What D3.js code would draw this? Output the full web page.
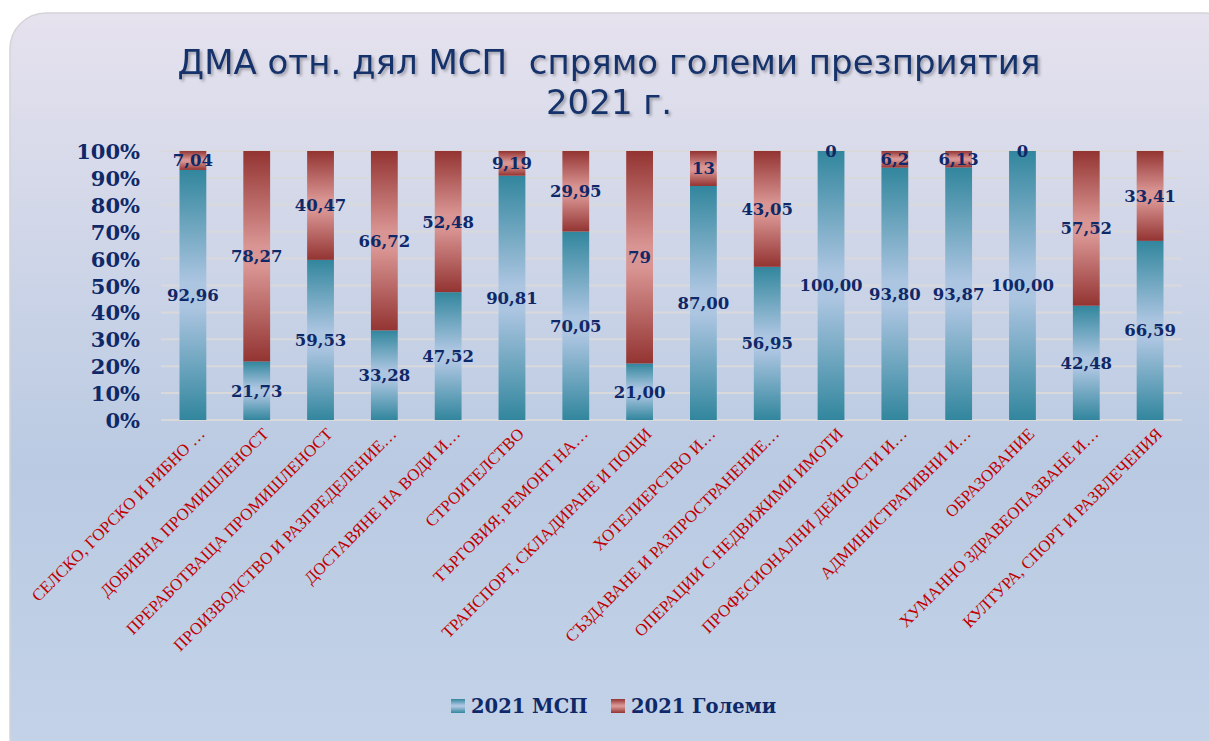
<!DOCTYPE html>
<html>
<head>
<meta charset="utf-8">
<script src="https://cdn.jsdelivr.net/npm/d3@7.9.0/dist/d3.min.js"></script>
<style>
  body { margin: 0; background: #fff; }
  svg { display: block; }
</style>
</head>
<body>
<svg width="1209" height="741"></svg>
<script>
const categories = [
  'СЕЛСКО, ГОРСКО И РИБНО …', 'ДОБИВНА ПРОМИШЛЕНОСТ', 'ПРЕРАБОТВАЩА ПРОМИШЛЕНОСТ',
  'ПРОИЗВОДСТВО И РАЗПРЕДЕЛЕНИЕ…', 'ДОСТАВЯНЕ НА ВОДИ И…', 'СТРОИТЕЛСТВО',
  'ТЪРГОВИЯ; РЕМОНТ НА…', 'ТРАНСПОРТ, СКЛАДИРАНЕ И ПОЩИ', 'ХОТЕЛИЕРСТВО И…',
  'СЪЗДАВАНЕ И РАЗПРОСТРАНЕНИЕ…', 'ОПЕРАЦИИ С НЕДВИЖИМИ ИМОТИ', 'ПРОФЕСИОНАЛНИ ДЕЙНОСТИ И…',
  'АДМИНИСТРАТИВНИ И…', 'ОБРАЗОВАНИЕ', 'ХУМАННО ЗДРАВЕОПАЗВАНЕ И…', 'КУЛТУРА, СПОРТ И РАЗВЛЕЧЕНИЯ'
];
const msp = [92.96, 21.73, 59.53, 33.28, 47.52, 90.81, 70.05, 21.00, 87.00, 56.95, 100.00, 93.80, 93.87, 100.00, 42.48, 66.59];
const large = [7.04, 78.27, 40.47, 66.72, 52.48, 9.19, 29.95, 79, 13, 43.05, 0, 6.2, 6.13, 0, 57.52, 33.41];
const seriesNames = ['2021 МСП', '2021 Големи'];
const yTicks = [0, 10, 20, 30, 40, 50, 60, 70, 80, 90, 100];

const navy = '#0f2868';
const svg = d3.select('svg');
const defs = svg.append('defs');

// background panel
let bg = defs.append('linearGradient').attr('id', 'bg').attr('x1', 0).attr('y1', 0).attr('x2', 0).attr('y2', 1);
bg.append('stop').attr('offset', '0%').attr('stop-color', '#e6e2ee');
bg.append('stop').attr('offset', '60%').attr('stop-color', '#b9cae2');
bg.append('stop').attr('offset', '100%').attr('stop-color', '#c4d3e8');

function barGrad(id, dark, light) {
  let g = defs.append('linearGradient').attr('id', id).attr('x1', 0).attr('y1', 0).attr('x2', 0).attr('y2', 1);
  g.append('stop').attr('offset', '0%').attr('stop-color', dark);
  g.append('stop').attr('offset', '45%').attr('stop-color', light);
  g.append('stop').attr('offset', '55%').attr('stop-color', light);
  g.append('stop').attr('offset', '100%').attr('stop-color', dark);
}
barGrad('teal', '#31869d', '#acc5e1');
barGrad('red', '#933432', '#d99593');

let shadow = defs.append('filter').attr('id', 'shadow').attr('x', '-5%').attr('y', '-20%').attr('width', '110%').attr('height', '140%');
shadow.append('feDropShadow').attr('dx', 2).attr('dy', 2).attr('stdDeviation', 1.5).attr('flood-color', '#000').attr('flood-opacity', 0.3);

svg.append('rect')
  .attr('x', 10).attr('y', 13).attr('width', 1230).attr('height', 760)
  .attr('rx', 36).attr('fill', 'url(#bg)')
  .attr('stroke', '#d4d4d8').attr('stroke-width', 1.5);

// title
let title = svg.append('text')
  .attr('text-anchor', 'middle')
  .attr('font-family', 'DejaVu Sans')
  .attr('font-size', 34)
  .attr('fill', '#16336a')
  .attr('filter', 'url(#shadow)')
  .style('white-space', 'pre');
title.append('tspan').attr('x', 609).attr('y', 74).text('ДМА отн. дял МСП  спрямо големи презприятия');
title.append('tspan').attr('x', 609).attr('y', 114).text('2021 г.');

// scales
const x = d3.scaleBand().domain(categories).range([161, 1182]).paddingInner(0.58).paddingOuter(0.29);
const y = d3.scaleLinear().domain([0, 100]).range([420, 151]);

// grid
svg.append('g').selectAll('line').data(yTicks).join('line')
  .attr('x1', 161).attr('x2', 1182)
  .attr('y1', d => y(d)).attr('y2', d => y(d))
  .attr('stroke', '#d9d9dc').attr('stroke-width', 2);

// y axis labels
const yAxis = d3.axisLeft(y).tickValues(yTicks).tickFormat(d => d + '%').tickSize(0).tickPadding(0);
let ya = svg.append('g').attr('transform', 'translate(140,0)').call(yAxis);
ya.select('.domain').remove();
ya.selectAll('text')
  .attr('font-family', 'DejaVu Serif').attr('font-weight', 'bold')
  .attr('font-size', 21).attr('fill', navy).attr('dy', '0.36em');

// stacked data
const rows = categories.map((c, i) => ({ cat: c, msp: msp[i], large: large[i] }));
const stacked = d3.stack().keys(['msp', 'large'])(rows);
const fills = ['url(#teal)', 'url(#red)'];

stacked.forEach((layer, k) => {
  svg.append('g').selectAll('rect').data(layer).join('rect')
    .attr('x', d => x(d.data.cat))
    .attr('width', x.bandwidth())
    .attr('y', d => y(d[1]))
    .attr('height', d => y(d[0]) - y(d[1]))
    .attr('fill', fills[k]);
});

// data labels
const fmtMsp = v => v.toFixed(2).replace('.', ',');
const fmtLarge = v => String(v).replace('.', ',');
stacked.forEach((layer, k) => {
  svg.append('g').selectAll('text').data(layer).join('text')
    .attr('x', d => x(d.data.cat) + x.bandwidth() / 2)
    .attr('y', d => y((d[0] + d[1]) / 2))
    .attr('dy', '0.36em')
    .attr('text-anchor', 'middle')
    .attr('font-family', 'DejaVu Serif').attr('font-weight', 'bold')
    .attr('font-size', 16.5).attr('fill', navy)
    .text(d => k === 0 ? fmtMsp(d.data.msp) : fmtLarge(d.data.large));
});

// x labels
svg.append('g').selectAll('text').data(categories).join('text')
  .attr('transform', d => `translate(${x(d) + x.bandwidth() / 2 + 13},${435}) rotate(-45)`)
  .attr('text-anchor', 'end')
  .attr('font-family', 'Liberation Serif')
  .attr('font-size', 16.8)
  .attr('fill', '#c00000')
  .text(d => d);

// legend
const legendX = [451, 611];
let lg = svg.append('g');
seriesNames.forEach((name, i) => {
  lg.append('rect').attr('x', legendX[i]).attr('y', 699).attr('width', 14).attr('height', 14)
    .attr('fill', fills[i]);
  lg.append('text').attr('x', legendX[i] + 20).attr('y', 713)
    .attr('font-family', 'DejaVu Serif').attr('font-weight', 'bold')
    .attr('font-size', 19.5).attr('fill', navy)
    .text(name);
});
</script>
</body>
</html>
